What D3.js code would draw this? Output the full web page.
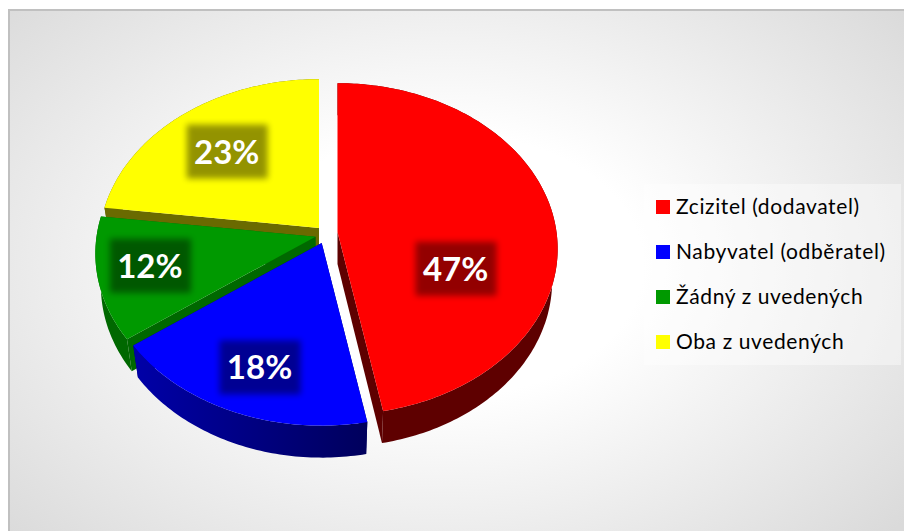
<!DOCTYPE html>
<html><head><meta charset="utf-8">
<script src="https://cdn.jsdelivr.net/npm/d3@7"></script>
<style>html,body{margin:0;padding:0;background:#fff;overflow:hidden}svg{display:block}</style>
</head><body><svg id="c" width="904" height="531"></svg>
<script>
const categories = ["Zcizitel (dodavatel)", "Nabyvatel (odběratel)", "Žádný z uvedených", "Oba z uvedených"];
const shares = [47, 18, 12, 23];
const topColors = ["#ff0000", "#0000ff", "#009900", "#ffff00"];
const wallColors = ["#5e0000", "#0000a8", "#006800", "#6a6a00"];
const wallColorsDark = ["#5e0000", "#00005c", "#006800", "#6a6a00"];

// layout
const W = 904, H = 531;
const R = 219, S = 164, K = 0.102, DEPTH = 32, BOTTOM_SCALE = 0.975;
const apexes = [[337.5, 232], [321.7, 243], [315.5, 236.7], [319, 228]];
const labelRadius = [0.535, 0.74, 0.77, 0.67];
const labelNudge = [[2, 45], [2, 3], [1, -3], [0, 2]];

const svg = d3.select("#c");
const defs = svg.append("defs");
const bg = defs.append("radialGradient").attr("id", "bg").attr("gradientUnits", "userSpaceOnUse")
  .attr("cx", 0).attr("cy", 0).attr("r", 1)
  .attr("gradientTransform", "translate(445,265) scale(600,400)");
bg.append("stop").attr("offset", "0.33").attr("stop-color", "#ffffff");
bg.append("stop").attr("offset", "1").attr("stop-color", "#dadada");
defs.append("filter").attr("id", "soft").attr("x", "-20%").attr("y", "-20%").attr("width", "140%").attr("height", "140%")
  .append("feGaussianBlur").attr("stdDeviation", 3);

svg.append("rect").attr("x", 9).attr("y", 10).attr("width", W).attr("height", H)
  .attr("fill", "url(#bg)").attr("stroke", "#c0c0c0").attr("stroke-width", 2);

const colorOf = d3.scaleOrdinal().domain(categories).range(topColors);
const pie = d3.pie().sort(null).value(d => d.v);
const arcs = pie(categories.map((c, i) => ({c, v: shares[i], i})));

// perspective projection of the tilted disc
function project(apex, angle, rad, scaleX, dy) {
  const u = Math.sin(angle) * rad, v = -Math.cos(angle) * rad;
  const w = 1 - K * v;
  return [apex[0] + scaleX * R * u / w, apex[1] + dy + S * v / w];
}
const line = d3.line();
function arcPoints(a, apex, scaleX, dy) {
  const n = Math.max(8, Math.ceil((a.endAngle - a.startAngle) * 60));
  return d3.range(n + 1).map(i => project(apex, a.startAngle + (a.endAngle - a.startAngle) * i / n, 1, scaleX, dy));
}

const layers = [3, 2, 1, 0]; // back to front
layers.forEach(idx => {
  const a = arcs[idx], apex = apexes[idx], g = svg.append("g");
  const top = arcPoints(a, apex, 1, 0), bot = arcPoints(a, apex, BOTTOM_SCALE, DEPTH);
  const gid = "wall" + idx;
  const xs = d3.extent(top, p => p[0]);
  const lg = defs.append("linearGradient").attr("id", gid).attr("gradientUnits", "userSpaceOnUse")
    .attr("x1", xs[0]).attr("x2", xs[1]).attr("y1", 0).attr("y2", 0);
  lg.append("stop").attr("offset", 0).attr("stop-color", wallColors[idx]);
  lg.append("stop").attr("offset", 1).attr("stop-color", wallColorsDark[idx]);
  const bApex = [apex[0], apex[1] + DEPTH];
  // radial walls
  [0, top.length - 1].forEach(j => {
    g.append("path").attr("d", line([apex, top[j], bot[j], bApex]) + "Z").attr("fill", wallColorsDark[idx]);
  });
  // outer wall
  g.append("path").attr("d", line(top.concat(bot.slice().reverse())) + "Z").attr("fill", `url(#${gid})`);
  // top face
  g.append("path").attr("d", line([apex].concat(top)) + "Z").attr("fill", colorOf(a.data.c));
});

// data labels
arcs.forEach((a, i) => {
  const [px, py] = project(apexes[i], (a.startAngle + a.endAngle) / 2, labelRadius[i], 1, 0);
  const x = px + labelNudge[i][0], y = py + labelNudge[i][1];
  svg.append("rect").attr("x", x - 40).attr("y", y - 27).attr("width", 81).attr("height", 54)
    .attr("fill", "#000").attr("opacity", 0.42).attr("filter", "url(#soft)");
  svg.append("text").attr("x", x).attr("y", y + 12).attr("text-anchor", "middle")
    .attr("font-family", "Lato").attr("font-weight", 700).attr("font-size", 33).attr("fill", "#fff")
    .text(a.data.v + "%");
});

// legend
svg.append("rect").attr("x", 644).attr("y", 184).attr("width", 257).attr("height", 181)
  .attr("fill", "#fff").attr("opacity", 0.4);
const rowY = d3.scalePoint().domain(categories).range([207, 342]);
const leg = svg.selectAll(".leg").data(categories).join("g").attr("class", "leg")
  .attr("transform", d => `translate(656,${rowY(d)})`);
leg.append("rect").attr("y", -7).attr("width", 14).attr("height", 14).attr("fill", d => colorOf(d));
leg.append("text").attr("x", 20).attr("y", 7).attr("font-family", "Lato").attr("font-size", 21)
  .attr("letter-spacing", 0.62).attr("fill", "#000").text(d => d);
</script></body></html>
